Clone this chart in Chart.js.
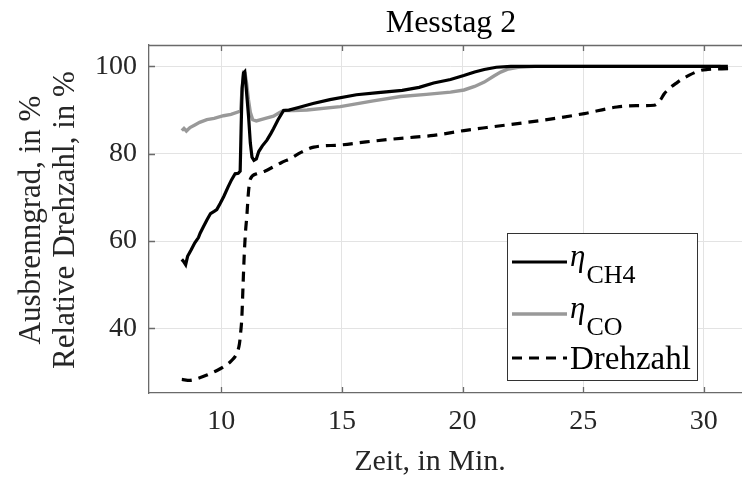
<!DOCTYPE html>
<html>
<head>
<meta charset="utf-8">
<script src="https://cdn.jsdelivr.net/npm/chart.js@4.4.1/dist/chart.umd.min.js"></script>
<style>
  html, body { margin: 0; padding: 0; background: #fff; overflow: hidden; }
  #grafica { display: block; }
</style>
</head>
<body>
<canvas id="grafica" width="752" height="479"></canvas>
<script>
// Messtag 2
let ch4Zeit = [8.36, 8.45, 8.52, 8.6, 8.75, 8.9, 9.05, 9.12, 9.25, 9.4, 9.55, 9.7, 9.81, 9.95, 10.1, 10.28, 10.42, 10.57, 10.7, 10.78,
    10.82, 10.86, 10.92, 10.97, 11.03, 11.13, 11.2, 11.27, 11.35, 11.45, 11.55, 11.7, 11.89, 12.05, 12.16, 12.35, 12.58, 12.8,
    13.2, 13.8, 14.5, 15.6, 16.5, 17.5, 18.2, 18.8, 19.5, 20.05, 20.5, 20.9, 21.4, 22.0, 31.0];
let ch4Werte = [55.8, 55.2, 54.6, 56.5, 58.0, 59.6, 60.8, 61.8, 63.2, 64.8, 66.3, 66.8, 67.2, 68.6, 70.2, 72.4, 74.0, 75.4, 75.5, 76.0,
    86, 95, 98.5, 98.8, 95, 88.4, 82.5, 79.2, 78.5, 78.8, 80.5, 81.8, 83.1, 84.6, 85.7, 87.8, 89.9, 90.0,
    90.6, 91.5, 92.4, 93.5, 94.0, 94.5, 95.2, 96.2, 97.0, 97.9, 98.7, 99.3, 99.8, 100, 100];

let coZeit = [8.36, 8.45, 8.55, 8.7, 8.9, 9.1, 9.4, 9.7, 10.09, 10.4, 10.71, 10.8, 10.85, 10.92, 10.98, 11.05, 11.12, 11.2, 11.3,
    11.45, 11.75, 12.16, 12.4, 12.58, 13.0, 13.55, 14.93, 16.3, 17.43, 18.5, 19.5, 20.06, 20.5, 20.9, 21.3, 21.58, 21.9, 22.3, 23.0, 30.7];
let coWerte = [85.3, 85.8, 85.2, 86.0, 86.6, 87.2, 87.8, 88.1, 88.7, 89.0, 89.6, 90.0, 94, 98.6, 98.5, 96, 92.5, 89.5, 87.8,
    87.5, 88.0, 88.6, 89.4, 89.9, 89.9, 90.0, 90.8, 92.1, 93.1, 93.6, 94.1, 94.6, 95.4, 96.4, 97.8, 98.7, 99.4, 99.8, 100, 100];

let drehZeit = [8.36, 8.7, 9.0, 9.4, 9.8, 10.09, 10.4, 10.64, 10.75, 10.8, 10.85, 10.9, 10.95, 11.0, 11.06, 11.12, 11.2, 11.47,
    11.8, 12.16, 12.5, 12.86, 13.3, 13.83, 14.93, 16.0, 17.0, 18.0, 18.8, 20.06, 21.0, 22.28, 23.5, 25.05, 26.4, 27.2, 27.95,
    28.2, 28.37, 28.92, 29.4, 29.88, 30.17, 31.05];
let drehWerte = [28.3, 28.1, 28.5, 29.3, 30.3, 31.2, 32.5, 34.3, 36.5, 39, 42.6, 50, 57, 62, 66, 71, 74.2, 75.4,
    76.0, 77.0, 78.0, 78.9, 80.3, 81.5, 82.0, 82.7, 83.3, 83.8, 84.2, 85.3, 86.0, 86.9, 87.8, 89.2, 90.7, 91.0, 91.1,
    92.3, 93.8, 96.4, 98.0, 99.1, 99.3, 99.5];

let xTicks = [10, 15, 20, 25, 30];
let yTicks = [40, 60, 80, 100];

let titulo = 'Messtag 2';
let xTitulo = 'Zeit, in Min.';
let yTitulo = ['Ausbrenngrad, in %', 'Relative Drehzahl, in %'];

const fuente = "'Liberation Serif', 'Times New Roman', serif";
const colorEje = '#6a6a6a';
const colorTexto = '#262626';

function puntos(zeit, werte) {
    return zeit.map((x, i) => ({ x: x, y: werte[i] }));
}

// titles, inner ticks, top border and the legend with subscripts
const decoracion = {
    id: 'decoracion',
    beforeDatasetsDraw(chart) {
        let ctx = chart.ctx;
        let area = chart.chartArea;
        let xs = chart.scales.x;
        let ys = chart.scales.y;
        ctx.save();
        ctx.strokeStyle = colorEje;
        ctx.lineWidth = 1.3;
        ctx.beginPath();
        ctx.moveTo(area.left, area.top + 0.5);
        ctx.lineTo(area.right, area.top + 0.5);
        xTicks.forEach(v => {
            let px = Math.round(xs.getPixelForValue(v)) + 0.5;
            ctx.moveTo(px, area.bottom);
            ctx.lineTo(px, area.bottom - 6);
            ctx.moveTo(px, area.top);
            ctx.lineTo(px, area.top + 6);
        });
        yTicks.forEach(v => {
            let py = Math.round(ys.getPixelForValue(v)) + 0.5;
            ctx.moveTo(area.left, py);
            ctx.lineTo(area.left + 6, py);
        });
        ctx.stroke();
        ctx.restore();
    },
    afterDraw(chart) {
        let ctx = chart.ctx;
        ctx.save();
        ctx.fillStyle = '#000';
        ctx.textAlign = 'center';
        ctx.textBaseline = 'alphabetic';
        ctx.font = '32px ' + fuente;
        ctx.fillText(titulo, 451, 32);

        ctx.font = '30px ' + fuente;
        ctx.fillStyle = colorTexto;
        ctx.fillText(xTitulo, 430, 470);

        ctx.save();
        ctx.translate(0, 220);
        ctx.rotate(-Math.PI / 2);
        ctx.font = '31px ' + fuente;
        ctx.fillText(yTitulo[0], 0, 40);
        ctx.fillText(yTitulo[1], 0, 74);
        ctx.restore();

        // legend
        let lx = 507, ly = 233, lw = 190, lh = 147;
        ctx.fillStyle = '#fff';
        ctx.fillRect(lx, ly, lw, lh);
        ctx.strokeStyle = '#333';
        ctx.lineWidth = 1;
        ctx.strokeRect(lx + 0.5, ly + 0.5, lw, lh);

        let filas = [
            { y: 262, ds: chart.data.datasets[0], base: 'η', sub: 'CH4' },
            { y: 314, ds: chart.data.datasets[1], base: 'η', sub: 'CO' },
            { y: 358, ds: chart.data.datasets[2], base: null, sub: null }
        ];
        filas.forEach(f => {
            ctx.beginPath();
            ctx.strokeStyle = f.ds.borderColor;
            ctx.lineWidth = f.ds.borderWidth;
            ctx.setLineDash(f.ds.borderDash || []);
            ctx.moveTo(512, f.y);
            ctx.lineTo(567, f.y);
            ctx.stroke();
            ctx.setLineDash([]);
            ctx.fillStyle = '#000';
            ctx.textAlign = 'left';
            if (f.base) {
                ctx.font = 'italic 31px ' + fuente;
                ctx.fillText(f.base, 570, f.y + 4);
                let w = ctx.measureText(f.base).width;
                ctx.font = '26px ' + fuente;
                ctx.fillText(f.sub, 570 + w + 1, f.y + 21);
            } else {
                ctx.font = '33px ' + fuente;
                ctx.fillText(f.ds.label, 570, f.y + 11);
            }
        });
        ctx.restore();
    }
};

let ctx = document.getElementById('grafica').getContext('2d');
let grafica = new Chart(ctx, {
    type: 'line',
    data: {
        datasets: [{
            label: 'ηCH4',
            data: puntos(ch4Zeit, ch4Werte),
            borderColor: '#000000',
            borderWidth: 3.2,
            pointRadius: 0,
            tension: 0
        }, {
            label: 'ηCO',
            data: puntos(coZeit, coWerte),
            borderColor: '#999999',
            borderWidth: 3.4,
            pointRadius: 0,
            tension: 0
        }, {
            label: 'Drehzahl',
            data: puntos(drehZeit, drehWerte),
            borderColor: '#000000',
            borderWidth: 3.2,
            borderDash: [10, 7],
            pointRadius: 0,
            cubicInterpolationMode: 'monotone'
        }]
    },
    options: {
        responsive: false,
        animation: false,
        events: [],
        layout: { padding: { top: 45, left: 0, right: 0, bottom: 0 } },
        plugins: {
            legend: { display: false },
            tooltip: { enabled: false },
            title: { display: false }
        },
        scales: {
            x: {
                type: 'linear',
                min: 7,
                max: 32,
                afterBuildTicks: s => { s.ticks = xTicks.map(v => ({ value: v })); },
                afterFit: s => { s.height = 86; },
                grid: { color: '#e3e3e3', lineWidth: 1, drawTicks: false },
                border: { display: true, color: colorEje, width: 1.3 },
                ticks: {
                    color: colorTexto,
                    padding: 12,
                    maxRotation: 0,
                    autoSkip: false,
                    font: { family: fuente, size: 28 }
                }
            },
            y: {
                min: 25.2,
                max: 104.9,
                afterBuildTicks: s => { s.ticks = yTicks.map(v => ({ value: v })); },
                afterFit: s => { s.width = 149; },
                grid: { color: '#e3e3e3', lineWidth: 1, drawTicks: false },
                border: { display: true, color: colorEje, width: 1.3 },
                ticks: {
                    color: colorTexto,
                    padding: 12,
                    autoSkip: false,
                    font: { family: fuente, size: 28 }
                }
            }
        }
    },
    plugins: [decoracion]
});
</script>
</body>
</html>
